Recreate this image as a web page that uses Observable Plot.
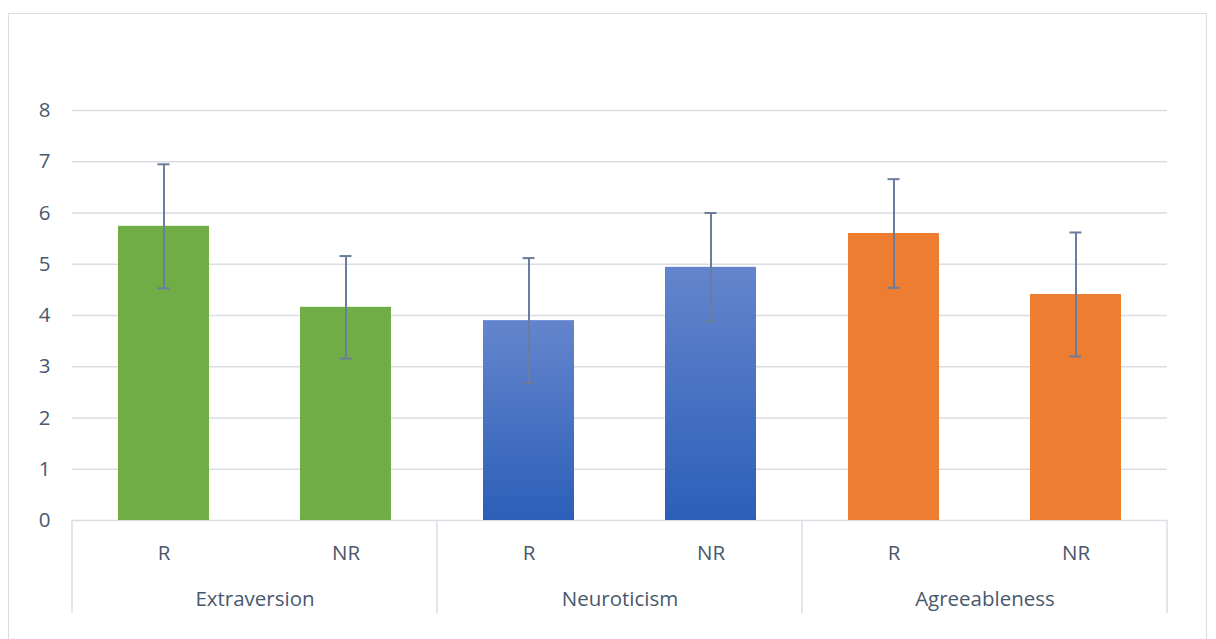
<!DOCTYPE html>
<html>
<head>
<meta charset="utf-8">
<script src="https://cdn.jsdelivr.net/npm/d3@7"></script>
<script src="https://cdn.jsdelivr.net/npm/@observablehq/plot@0.6"></script>
<style>
  html, body { margin: 0; padding: 0; background: #ffffff; }
  #wrap { position: relative; width: 1216px; height: 639px; overflow: hidden; }
  #border { position: absolute; left: 8px; top: 13px; width: 1199px; height: 640px; border: 1.5px solid #dadde4; box-sizing: border-box; }
  #chart { position: absolute; left: 0; top: 0; }
</style>
</head>
<body>
<div id="wrap"><div id="border"></div><div id="chart"></div></div>
<script>
// ---- data ----
const categories = ["Extraversion", "Neuroticism", "Agreeableness"];
const groups = ["R", "NR"];
const means = [5.74, 4.16, 3.90, 4.94, 5.60, 4.41];
const errors = [1.21, 1.00, 1.22, 1.06, 1.06, 1.21];
const yTicks = [0, 1, 2, 3, 4, 5, 6, 7, 8];
// ---- styles ----
const fills = ["#70ad47", "url(#neuroGrad)", "#ed7d31"];
const textColor = "#48586e";
const gridColor = "#dadde4";
const errColor = "#6a7d9c";

const data = categories.flatMap((c, i) =>
  groups.map((g, j) => ({category: c, group: g, mean: means[i * 2 + j], err: errors[i * 2 + j]}))
);

const defs = () => {
  const ns = "http://www.w3.org/2000/svg";
  const d = document.createElementNS(ns, "defs");
  const lg = document.createElementNS(ns, "linearGradient");
  lg.setAttribute("id", "neuroGrad");
  lg.setAttribute("x1", "0"); lg.setAttribute("y1", "0");
  lg.setAttribute("x2", "0"); lg.setAttribute("y2", "1");
  [["0%", "#6485cd"], ["100%", "#2c5fb8"]].forEach(([o, c]) => {
    const s = document.createElementNS(ns, "stop");
    s.setAttribute("offset", o); s.setAttribute("stop-color", c);
    lg.appendChild(s);
  });
  d.appendChild(lg);
  return d;
};

const marginTop = 110, marginBottom = 119, marginLeft = 72, marginRight = 49;

const chart = Plot.plot({
  width: 1216,
  height: 639,
  marginTop, marginBottom, marginLeft, marginRight,
  style: {fontFamily: "'Open Sans', sans-serif", fontSize: "20.5px", color: textColor, background: "transparent"},
  y: {domain: [0, 8], label: null},
  fx: {domain: categories, paddingInner: 0, paddingOuter: 0, label: null},
  x: {domain: groups, paddingInner: 0.5, paddingOuter: 0.25, label: null},
  color: {type: "identity"},
  marks: [
    defs,
    Plot.gridY(yTicks, {stroke: gridColor, strokeOpacity: 1, strokeWidth: 1.5}),
    Plot.barY(data, {fx: "category", x: "group", y: "mean", fill: d => fills[categories.indexOf(d.category)]}),
    Plot.ruleX(data, {fx: "category", x: "group", y1: d => d.mean - d.err, y2: d => d.mean + d.err, stroke: errColor, strokeWidth: 2}),
    Plot.tickY(data, {fx: "category", x: "group", y: d => d.mean - d.err, stroke: errColor, strokeWidth: 2, insetLeft: 39.5, insetRight: 39.5}),
    Plot.tickY(data, {fx: "category", x: "group", y: d => d.mean + d.err, stroke: errColor, strokeWidth: 2, insetLeft: 39.5, insetRight: 39.5}),
    Plot.axisY({ticks: yTicks, tickSize: 0, tickPadding: 22, label: null, tickFormat: d => String(d)}),
    Plot.axisX({tickSize: 0, tickPadding: 25, label: null}),
    Plot.axisFx({anchor: "bottom", tickSize: 0, tickPadding: 71, label: null})
  ]
});

document.getElementById("chart").appendChild(chart);

// category separators below the axis, positioned from the fx scale
const fxs = chart.scale("fx");
const svg = d3.select(chart);
const bounds = categories.map(c => fxs.apply(c)).concat([fxs.apply(categories[categories.length - 1]) + fxs.bandwidth]);
const y0 = 639 - marginBottom;
svg.append("g")
  .selectAll("line")
  .data(bounds)
  .join("line")
  .attr("x1", d => d).attr("x2", d => d)
  .attr("y1", y0).attr("y2", y0 + 93)
  .attr("stroke", gridColor)
  .attr("stroke-width", 1.5);
</script>
</body>
</html>
